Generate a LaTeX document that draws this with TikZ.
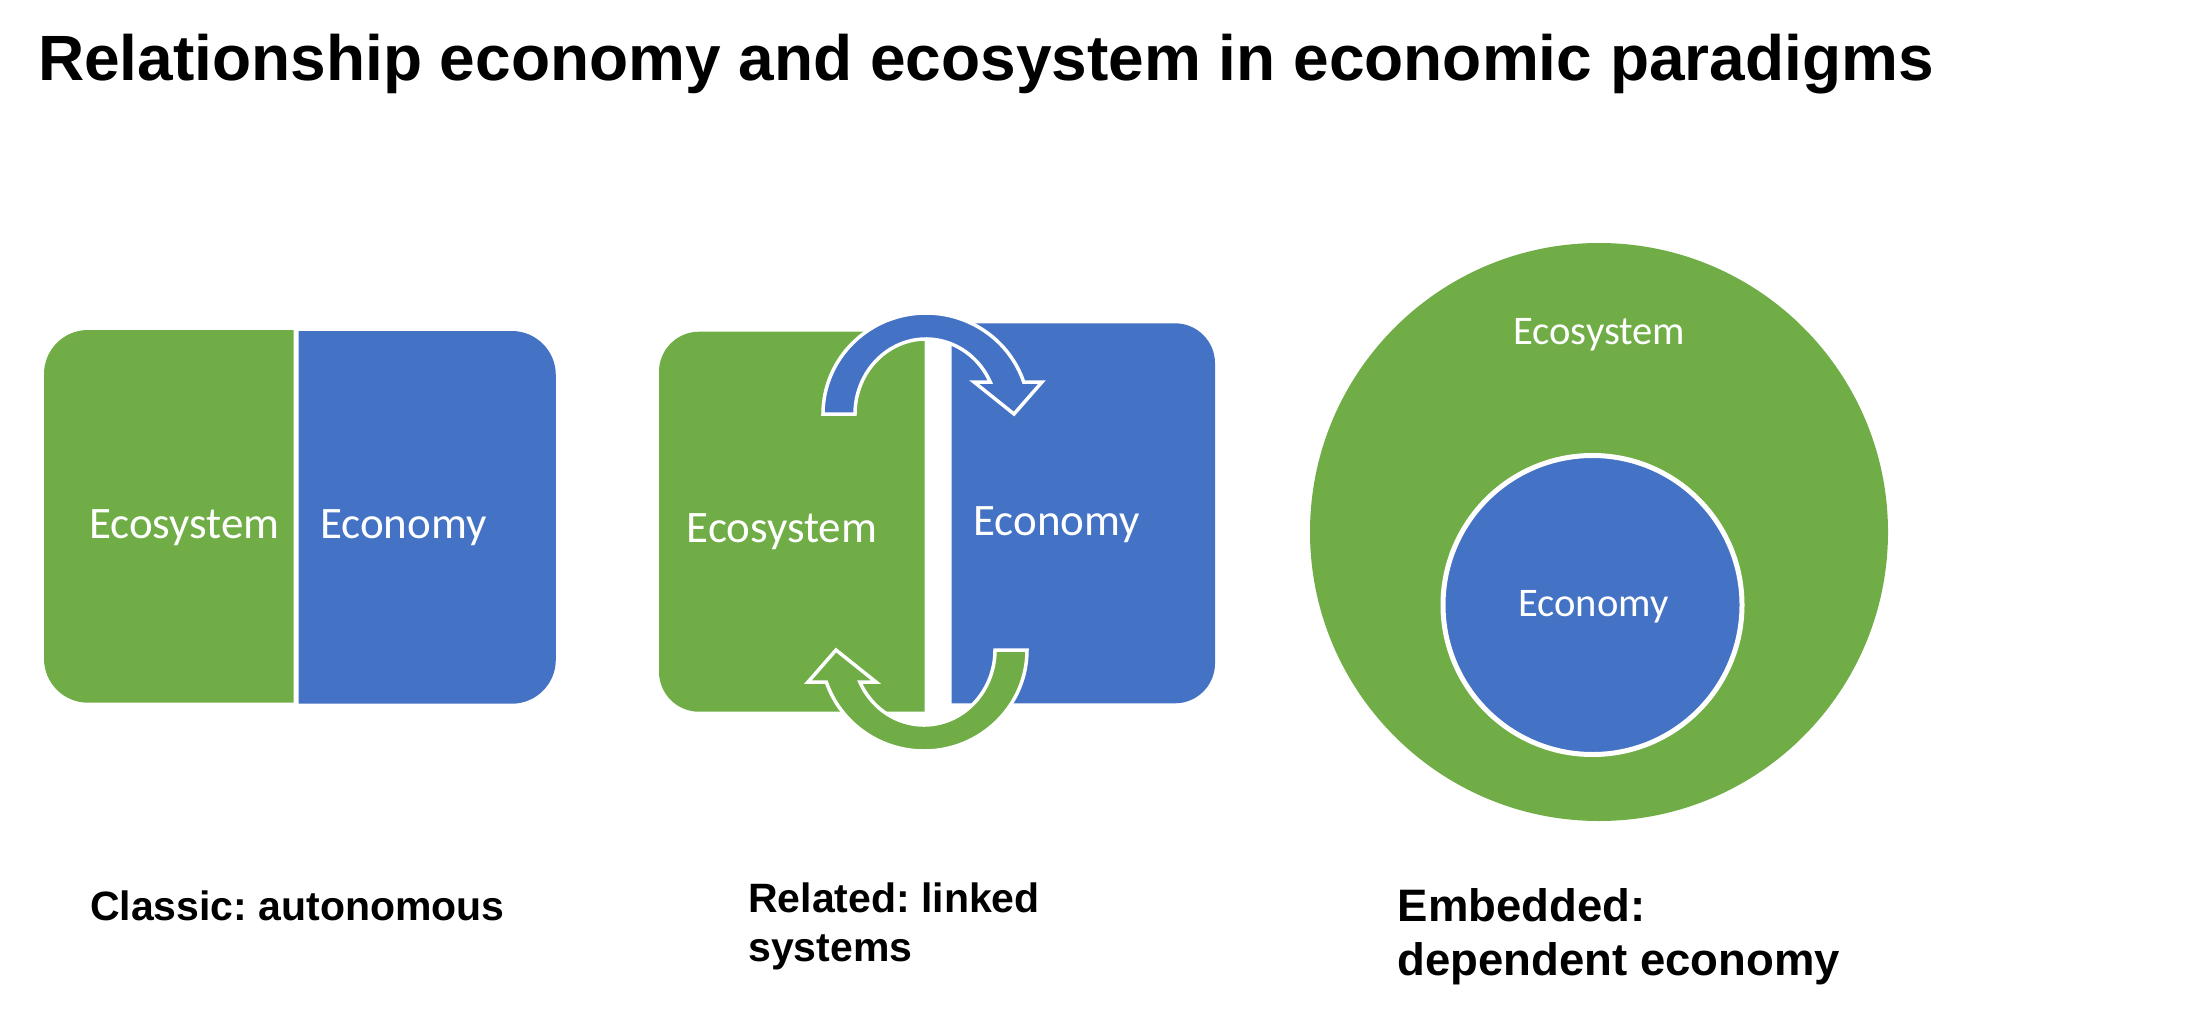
\documentclass[tikz,border=0pt]{standalone}
\usepackage{fontspec}
\setmainfont{Liberation Sans}
\newfontfamily\calfont{Carlito}
\definecolor{ecogreen}{HTML}{70AD47}
\definecolor{econblue}{HTML}{4472C4}
\frenchspacing
\begin{document}
\begin{tikzpicture}[x=1pt,y=1pt,
  titletext/.style={font=\bfseries\fontsize{64}{70}\selectfont, anchor=base west, inner sep=0pt},
  captext/.style={font=\bfseries\fontsize{41}{44}\selectfont, anchor=base west, inner sep=0pt},
  capbigtext/.style={font=\bfseries\fontsize{45.5}{50}\selectfont, anchor=base west, inner sep=0pt},
  labtext/.style={font=\calfont\fontsize{45}{50}\selectfont, text=white, anchor=base, inner sep=0pt},
  labsmall/.style={font=\calfont\fontsize{40.6}{45}\selectfont, text=white, anchor=base, inner sep=0pt},
  arrowshape/.style={draw=white, line width=3.5pt, line join=miter}
]
\fill[white] (0,0) rectangle (2206,-1014);
\useasboundingbox (0,0) rectangle (2206,-1014);

% ---------- Title ----------
\node[titletext] (title) at (38,-81) {Relationship economy and ecosystem in economic paradigms};

% ---------- Panel 1: classic ----------
\fill[ecogreen] (293.5,-330) -- (88,-330) arc[start angle=90,end angle=180,radius=44]
  -- (44,-658.7) arc[start angle=180,end angle=270,radius=44] -- (293.5,-702.7) -- cycle;
\fill[econblue] (298.5,-331) -- (511.8,-331) arc[start angle=90,end angle=0,radius=44]
  -- (555.8,-659.7) arc[start angle=0,end angle=-90,radius=44] -- (298.5,-703.7) -- cycle;
\node[labtext] (ecoA) at (184.3,-538.5) {Ecosystem};
\node[labtext] (econA) at (403.4,-538.5) {Economy};

% ---------- Panel 2: related ----------
\fill[ecogreen] (924.6,-331.7) -- (699,-331.7) arc[start angle=90,end angle=180,radius=40]
  -- (659,-671.7) arc[start angle=180,end angle=270,radius=40] -- (924.6,-711.7) -- cycle;
\fill[econblue] (951.5,-323.3) -- (1175,-323.3) arc[start angle=90,end angle=0,radius=40]
  -- (1215,-663.3) arc[start angle=0,end angle=-90,radius=40] -- (951.5,-703.3) -- cycle;
\node[labtext] (ecoB) at (782,-542.5) {Ecosystem};
\node[labtext] (econB) at (1056.8,-535.5) {Economy};

\begin{scope}[shift={(926,-414)}]
\filldraw[fill=econblue, arrowshape] (-103,0)
  arc[start angle=180,end angle=18.47,x radius=103,y radius=101]
  -- (116,32) -- (88,0) -- (48,32) -- (64.2,32)
  arc[start angle=25.26,end angle=180,x radius=71,y radius=75] -- cycle;
\end{scope}
\begin{scope}[shift={(924,-650)},rotate=180]
\filldraw[fill=ecogreen, arrowshape] (-103,0)
  arc[start angle=180,end angle=18.47,x radius=103,y radius=101]
  -- (116,32) -- (88,0) -- (48,32) -- (64.2,32)
  arc[start angle=25.26,end angle=180,x radius=71,y radius=75] -- cycle;
\end{scope}

% ---------- Panel 3: embedded ----------
\fill[ecogreen] (1599,-532) circle[radius=289];
\filldraw[fill=econblue, draw=white, line width=5pt] (1592.5,-605) circle[radius=149.5];
\node[labsmall] (ecoC) at (1599.3,-344.6) {Ecosystem};
\node[labsmall] (econC) at (1593.3,-616) {Economy};

% ---------- Captions ----------
\node[captext] (capA) at (90,-920) {Classic: autonomous};
\node[captext] (capB1) at (748,-912.7) {Related: linked};
\node[captext] (capB2) at (748,-961) {systems};
\node[capbigtext] (capC1) at (1397.5,-921) {Embedded:};
\node[capbigtext] (capC2) at (1397.5,-975) {dependent economy};
\end{tikzpicture}
\end{document}
